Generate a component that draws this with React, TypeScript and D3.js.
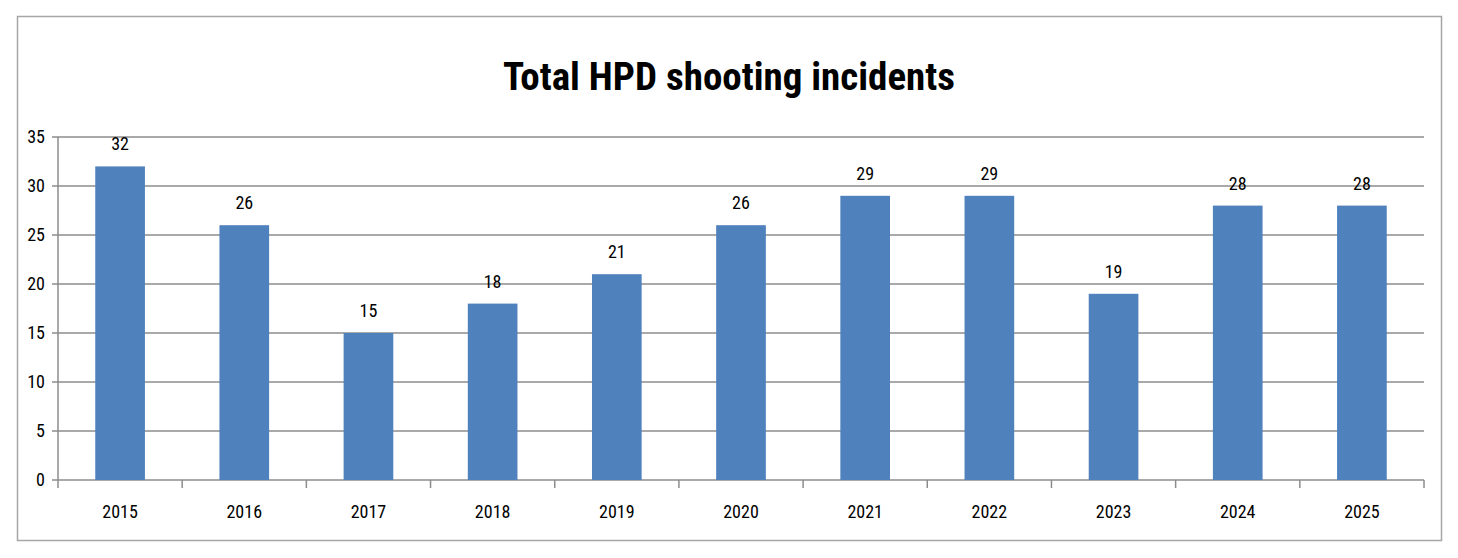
import React from "react";
import * as d3 from "d3";

const years = ["2015","2016","2017","2018","2019","2020","2021","2022","2023","2024","2025"];
const incidents = [32, 26, 15, 18, 21, 26, 29, 29, 19, 28, 28];
const yTicks = [0, 5, 10, 15, 20, 25, 30, 35];
const title = "Total HPD shooting incidents";

const W = 1458, H = 558;
const left = 58, right = 1424, top = 137, bottom = 480;
const font = "'Liberation Sans Narrow', 'Roboto Condensed', 'Open Sans', sans-serif";

export default function App() {
  const x = d3.scaleBand<string>().domain(years).range([left, right]).paddingInner(0.6).paddingOuter(0.3);
  const xb = d3.scaleBand<string>().domain(years).range([left, right]);
  const y = d3.scaleLinear().domain([0, 35]).range([bottom, top]);
  return (
    <svg width={W} height={H} style={{ position: "absolute", left: 0, top: 0, background: "#fff" }}>
      <rect x={17.5} y={16.5} width={1424} height={524} fill="#fff" stroke="#a6a6a6" strokeWidth={1.5} />
      <text x={729} y={90} textAnchor="middle" fontFamily={font} fontWeight="bold" fontSize={39} fill="#000">{title}</text>
      {yTicks.map(t => (
        <g key={t}>
          <line x1={left - 6} x2={right} y1={y(t)} y2={y(t)} stroke="#8c8c8c" strokeWidth={1.5} />
          <text x={45} y={y(t) + 6} textAnchor="end" fontFamily={font} fontSize={18} fill="#000">{t}</text>
        </g>
      ))}
      <line x1={left} x2={left} y1={top} y2={bottom + 8} stroke="#8c8c8c" strokeWidth={1.5} />
      {years.map(yr => (
        <line key={"t" + yr} x1={(xb(yr) as number) + xb.bandwidth()} x2={(xb(yr) as number) + xb.bandwidth()} y1={bottom} y2={bottom + 8} stroke="#8c8c8c" strokeWidth={1.5} />
      ))}
      {years.map((yr, i) => (
        <g key={yr}>
          <rect x={x(yr)} y={y(incidents[i])} width={x.bandwidth()} height={bottom - y(incidents[i])} fill="#4F81BD" />
          <text x={(x(yr) as number) + x.bandwidth() / 2} y={y(incidents[i]) - 16} textAnchor="middle" fontFamily={font} fontSize={18} fill="#000">{incidents[i]}</text>
          <text x={(xb(yr) as number) + xb.bandwidth() / 2} y={518} textAnchor="middle" fontFamily={font} fontSize={18} fill="#000">{yr}</text>
        </g>
      ))}
    </svg>
  );
}
